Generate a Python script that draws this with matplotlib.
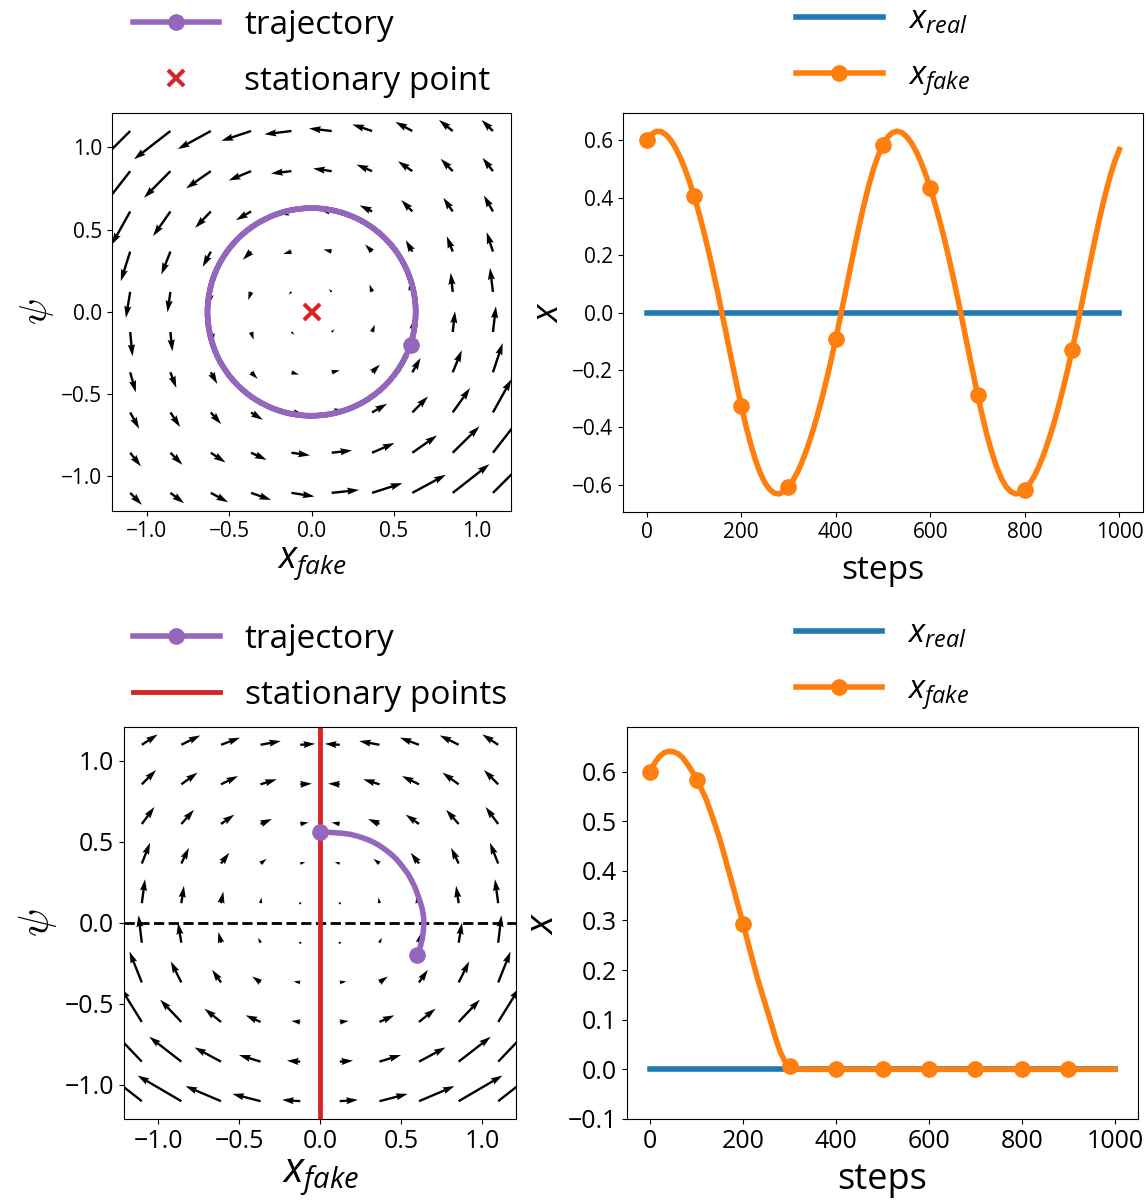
import matplotlib
matplotlib.use('Agg')
import numpy as np
import matplotlib.pyplot as plt

plt.rcParams['font.family'] = ['Open Sans', 'DejaVu Sans']
plt.rcParams['mathtext.fontset'] = 'custom'
plt.rcParams['mathtext.rm'] = 'Open Sans'
plt.rcParams['mathtext.it'] = 'Open Sans:italic'
plt.rcParams['mathtext.bf'] = 'Open Sans:bold'

# Gitter der Vektorfelder (x_fake, psi)
grid = [-1.1, -0.856, -0.611, -0.367, -0.122, 0.122, 0.367, 0.611, 0.856, 1.1]

# Vektorfeld oben (Zeilen von psi=1.1 nach psi=-1.1)
u_top = [
    [-0.235, -0.221, -0.200, -0.180, -0.164, -0.138, -0.120, -0.103, -0.083, -0.069],
    [-0.171, -0.160, -0.150, -0.136, -0.124, -0.113, -0.095, -0.087, -0.073, -0.063],
    [-0.112, -0.105, -0.095, -0.091, -0.088, -0.082, -0.075, -0.067, -0.057, -0.055],
    [-0.057, -0.055, -0.049, -0.050, -0.050, -0.049, -0.042, -0.040, -0.036, -0.038],
    [-0.026, -0.018, -0.018, -0.017, -0.017, -0.017, -0.015, -0.016, -0.012, -0.018],
    [0.014, 0.012, 0.016, 0.016, 0.017, 0.017, 0.016, 0.018, 0.014, 0.018],
    [0.034, 0.036, 0.039, 0.040, 0.045, 0.049, 0.047, 0.050, 0.055, 0.059],
    [0.055, 0.059, 0.063, 0.071, 0.082, 0.088, 0.091, 0.095, 0.105, 0.112],
    [0.065, 0.073, 0.089, 0.095, 0.113, 0.124, 0.136, 0.150, 0.162, 0.171],
    [0.071, 0.083, 0.105, 0.122, 0.140, 0.166, 0.184, 0.203, 0.223, 0.235],
]
v_top = [
    [-0.235, -0.172, -0.110, -0.060, -0.020, 0.016, 0.040, 0.055, 0.067, 0.067],
    [-0.220, -0.162, -0.105, -0.057, -0.014, 0.016, 0.040, 0.060, 0.075, 0.081],
    [-0.202, -0.150, -0.100, -0.053, -0.018, 0.016, 0.037, 0.069, 0.083, 0.097],
    [-0.180, -0.140, -0.093, -0.050, -0.015, 0.013, 0.043, 0.069, 0.093, 0.118],
    [-0.158, -0.124, -0.088, -0.050, -0.017, 0.017, 0.045, 0.082, 0.116, 0.146],
    [-0.148, -0.118, -0.082, -0.047, -0.017, 0.017, 0.045, 0.088, 0.126, 0.156],
    [-0.122, -0.095, -0.071, -0.040, -0.014, 0.012, 0.047, 0.087, 0.134, 0.178],
    [-0.100, -0.089, -0.071, -0.045, -0.016, 0.018, 0.053, 0.097, 0.148, 0.202],
    [-0.083, -0.073, -0.059, -0.043, -0.016, 0.014, 0.059, 0.105, 0.160, 0.220],
    [-0.073, -0.063, -0.057, -0.043, -0.022, 0.018, 0.059, 0.110, 0.175, 0.235],
]

# Vektorfeld unten
u_bot = [
    [0.098, 0.117, 0.118, 0.125, 0.092, -0.092, -0.125, -0.118, -0.117, -0.098],
    [0.088, 0.100, 0.105, 0.100, 0.072, -0.072, -0.100, -0.105, -0.100, -0.088],
    [0.078, 0.078, 0.082, 0.070, 0.051, -0.051, -0.070, -0.082, -0.078, -0.078],
    [0.051, 0.047, 0.051, 0.037, 0.031, -0.031, -0.037, -0.051, -0.047, -0.051],
    [0.020, 0.016, 0.014, 0.006, 0.004, -0.004, -0.006, -0.014, -0.016, -0.020],
    [-0.020, -0.020, -0.016, -0.014, -0.010, 0.010, 0.014, 0.016, 0.020, 0.020],
    [-0.076, -0.065, -0.055, -0.051, -0.041, 0.041, 0.051, 0.055, 0.065, 0.076],
    [-0.130, -0.131, -0.102, -0.092, -0.055, 0.055, 0.092, 0.102, 0.131, 0.130],
    [-0.200, -0.198, -0.164, -0.133, -0.082, 0.082, 0.133, 0.164, 0.198, 0.200],
    [-0.280, -0.270, -0.219, -0.174, -0.112, 0.112, 0.174, 0.219, 0.270, 0.280],
]
v_bot = [
    [0.064, 0.058, 0.044, 0.023, 0.006, 0.006, 0.023, 0.044, 0.058, 0.064],
    [0.088, 0.072, 0.051, 0.031, 0.004, 0.004, 0.031, 0.051, 0.072, 0.088],
    [0.105, 0.088, 0.058, 0.031, 0.010, 0.010, 0.031, 0.058, 0.088, 0.105],
    [0.128, 0.097, 0.066, 0.029, 0.008, 0.008, 0.029, 0.066, 0.097, 0.128],
    [0.148, 0.107, 0.072, 0.035, 0.008, 0.008, 0.035, 0.072, 0.107, 0.148],
    [0.169, 0.123, 0.066, 0.031, 0.008, 0.008, 0.031, 0.066, 0.123, 0.169],
    [0.191, 0.130, 0.078, 0.037, 0.006, 0.006, 0.037, 0.078, 0.130, 0.191],
    [0.210, 0.138, 0.082, 0.041, 0.006, 0.006, 0.041, 0.082, 0.138, 0.210],
    [0.210, 0.154, 0.088, 0.041, 0.006, 0.006, 0.041, 0.088, 0.154, 0.210],
    [0.220, 0.158, 0.093, 0.045, 0.008, 0.008, 0.045, 0.093, 0.158, 0.220],
]

# Trainingsschritte (alle 10 Schritte gespeichert)
steps = list(range(0, 1001, 10))

# oben: simultane Gradientenschritte, Kreisbahn um (0, 0)
x_fake_top = [
    0.600, 0.621, 0.631, 0.631, 0.621, 0.603, 0.577, 0.544, 0.505, 0.459,
    0.407, 0.351, 0.288, 0.220, 0.148, 0.072, -0.007, -0.088, -0.169, -0.248,
    -0.324, -0.395, -0.458, -0.513, -0.558, -0.593, -0.616, -0.629, -0.632, -0.624,
    -0.608, -0.584, -0.553, -0.515, -0.471, -0.421, -0.365, -0.304, -0.238, -0.167,
    -0.092, -0.013, 0.067, 0.148, 0.229, 0.306, 0.378, 0.444, 0.501, 0.548,
    0.585, 0.612, 0.627, 0.632, 0.627, 0.613, 0.591, 0.562, 0.525, 0.482,
    0.434, 0.379, 0.319, 0.255, 0.185, 0.111, 0.033, -0.047, -0.128, -0.208,
    -0.286, -0.360, -0.428, -0.487, -0.537, -0.577, -0.606, -0.624, -0.632, -0.629,
    -0.618, -0.597, -0.570, -0.535, -0.494, -0.446, -0.394, -0.335, -0.271, -0.203,
    -0.130, -0.053, 0.027, 0.108, 0.189, 0.268, 0.342, 0.411, 0.473, 0.526,
    0.568,
]
psi_top = [
    -0.199, -0.119, -0.039, 0.040, 0.116, 0.189, 0.257, 0.321, 0.381, 0.434,
    0.483, 0.526, 0.563, 0.592, 0.614, 0.628, 0.632, 0.626, 0.609, 0.581,
    0.542, 0.493, 0.435, 0.369, 0.296, 0.218, 0.139, 0.059, -0.020, -0.097,
    -0.171, -0.241, -0.306, -0.366, -0.422, -0.472, -0.516, -0.554, -0.586, -0.610,
    -0.625, -0.632, -0.628, -0.614, -0.589, -0.553, -0.506, -0.450, -0.385, -0.314,
    -0.238, -0.159, -0.079, 0.001, 0.078, 0.153, 0.224, 0.290, 0.352, 0.408,
    0.460, 0.505, 0.545, 0.578, 0.604, 0.622, 0.631, 0.630, 0.619, 0.597,
    0.563, 0.519, 0.465, 0.402, 0.333, 0.258, 0.179, 0.099, 0.019, -0.059,
    -0.134, -0.206, -0.274, -0.337, -0.395, -0.447, -0.495, -0.536, -0.571, -0.599,
    -0.619, -0.630, -0.631, -0.623, -0.603, -0.572, -0.532, -0.480, -0.419, -0.351,
    -0.277,
]

# unten: Konvergenz auf die Gerade x_fake = 0
x_fake_bot = [
    0.600, 0.618, 0.631, 0.638, 0.641, 0.640, 0.636, 0.628, 0.615, 0.601,
    0.584, 0.565, 0.545, 0.519, 0.492, 0.463, 0.430, 0.396, 0.362, 0.327,
    0.293, 0.257, 0.221, 0.186, 0.155, 0.124, 0.094, 0.062, 0.035, 0.016,
    0.007, 0.003, 0.001,
] + [0.0] * 68
psi_bot = [
    -0.200, -0.150, -0.100, -0.050, 0.000, 0.030, 0.060, 0.100, 0.140, 0.180,
    0.225, 0.263, 0.300, 0.335, 0.370, 0.403, 0.432, 0.458, 0.481, 0.500,
    0.515, 0.528, 0.539, 0.547, 0.552, 0.555, 0.557, 0.559, 0.560,
] + [0.560] * 72

x_real = 0.0

purple = '#9467bd'
red = '#d62728'
blue = '#1f77b4'
orange = '#ff7f0e'

leg_kw = dict(loc='lower center', bbox_to_anchor=(0.5, 1.0), frameon=False, fontsize=24,
              handlelength=2.6, handletextpad=0.75, labelspacing=0.7, borderaxespad=0.05)

fig = plt.figure(figsize=(11.48, 12), dpi=100)
ax1 = fig.add_axes([0.0976, 0.5742, 0.3476, 0.3317])
ax2 = fig.add_axes([0.5427, 0.5733, 0.4530, 0.3325])
ax3 = fig.add_axes([0.1080, 0.0675, 0.3415, 0.3267])
ax4 = fig.add_axes([0.5462, 0.0675, 0.4451, 0.3267])

X, Y = np.meshgrid(grid, grid[::-1])

# --- oben links: Vektorfeld + Trajektorie
ax1.quiver(X, Y, np.array(u_top), np.array(v_top), angles='xy', scale_units='xy', scale=1)
ax1.plot(x_fake_top, psi_top, color=purple, lw=4, marker='o', ms=11, markevery=[0],
         label='trajectory')
ax1.plot([x_real], [0.0], 'x', color=red, ms=11, mew=3, lw=0, label='stationary point')
ax1.set_xlim(-1.21, 1.21)
ax1.set_ylim(-1.21, 1.21)
ax1.set_xticks([-1.0, -0.5, 0.0, 0.5, 1.0])
ax1.set_yticks([-1.0, -0.5, 0.0, 0.5, 1.0])
ax1.tick_params(labelsize=15)
ax1.set_xlabel(r'$x_{fake}$', fontsize=27, labelpad=2)
ax1.set_ylabel(r'$\psi$', fontsize=28, math_fontfamily='cm')
ax1.legend(**leg_kw)

# --- oben rechts: Verlauf von x
ax2.plot(steps, [x_real] * len(steps), color=blue, lw=4, label=r'$x_{real}$')
ax2.plot(steps, x_fake_top, color=orange, lw=4, marker='o', ms=11,
         markevery=slice(0, 100, 10), label=r'$x_{fake}$')
ax2.set_yticks([-0.6, -0.4, -0.2, 0.0, 0.2, 0.4, 0.6])
ax2.tick_params(labelsize=15)
ax2.set_xlabel('steps', fontsize=24, labelpad=8)
ax2.set_ylabel(r'$x$', fontsize=26)
ax2.legend(**leg_kw)

# --- unten links
ax3.quiver(X, Y, np.array(u_bot), np.array(v_bot), angles='xy', scale_units='xy', scale=1)
ax3.axhline(0.0, color='k', ls='--', lw=2)
ax3.axvline(x_real, color=red, lw=3.5, label='stationary points')
ax3.plot(x_fake_bot, psi_bot, color=purple, lw=4, marker='o', ms=11,
         markevery=[0, len(psi_bot) - 1], label='trajectory')
ax3.set_xlim(-1.21, 1.21)
ax3.set_ylim(-1.21, 1.21)
ax3.set_xticks([-1.0, -0.5, 0.0, 0.5, 1.0])
ax3.set_yticks([-1.0, -0.5, 0.0, 0.5, 1.0])
ax3.tick_params(labelsize=18)
ax3.set_xlabel(r'$x_{fake}$', fontsize=30, labelpad=2)
ax3.set_ylabel(r'$\psi$', fontsize=30, math_fontfamily='cm')
h, l = ax3.get_legend_handles_labels()
ax3.legend(h[::-1], l[::-1], **leg_kw)

# --- unten rechts
ax4.plot(steps, [x_real] * len(steps), color=blue, lw=4, label=r'$x_{real}$')
ax4.plot(steps, x_fake_bot, color=orange, lw=4, marker='o', ms=11,
         markevery=slice(0, 100, 10), label=r'$x_{fake}$')
ax4.set_ylim(-0.1, 0.69)
ax4.set_yticks([-0.1, 0.0, 0.1, 0.2, 0.3, 0.4, 0.5, 0.6])
ax4.tick_params(labelsize=18)
ax4.set_xlabel('steps', fontsize=26, labelpad=6)
ax4.set_ylabel(r'$x$', fontsize=28)
ax4.legend(**leg_kw)

fig.savefig('out.png', dpi=100)
